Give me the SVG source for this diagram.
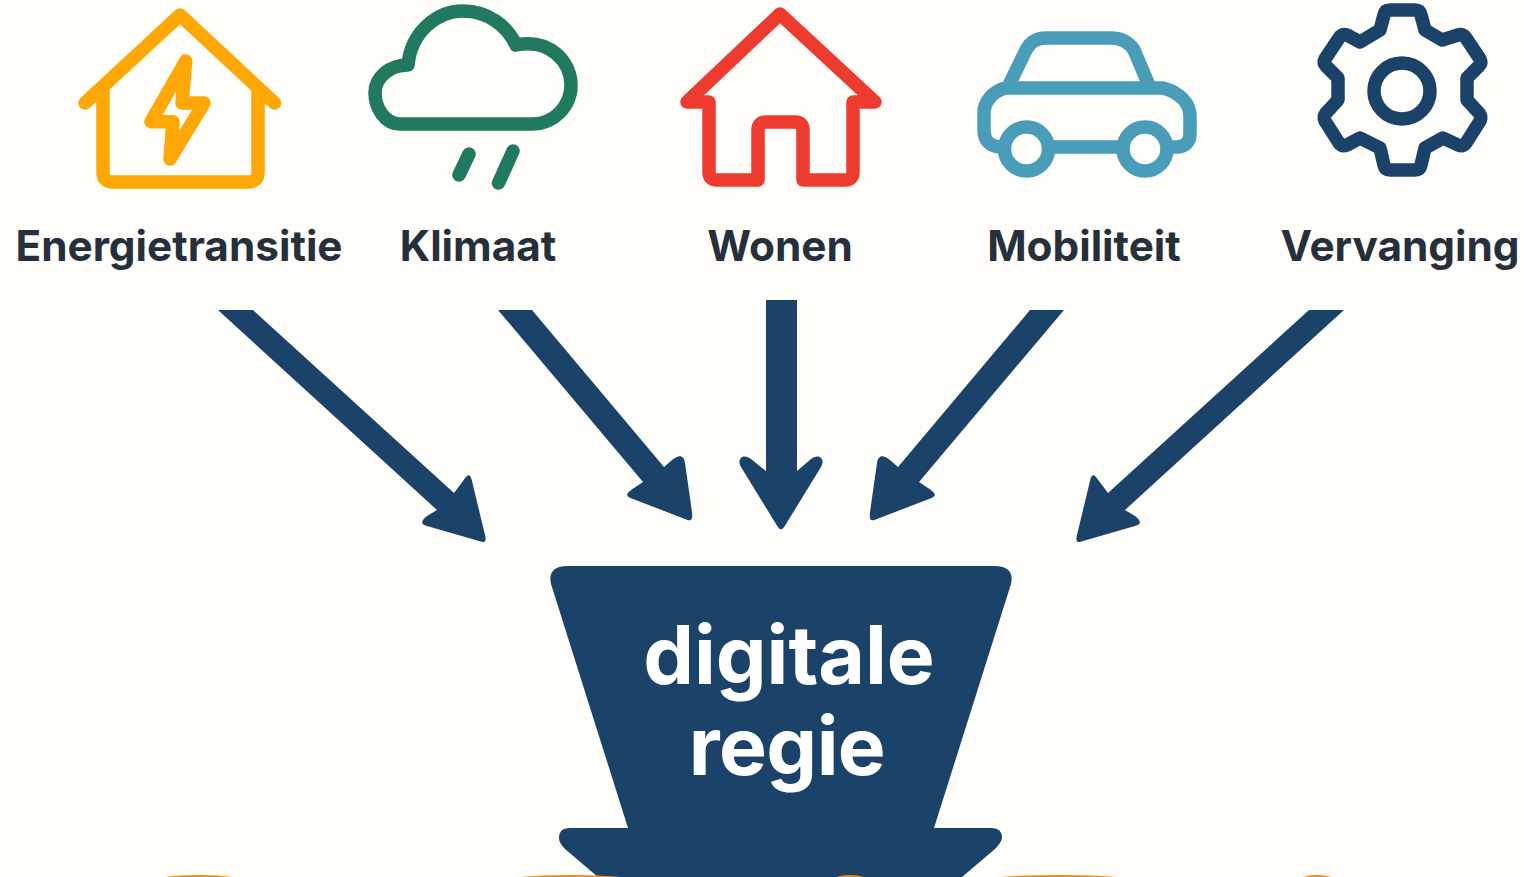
<svg xmlns="http://www.w3.org/2000/svg" width="1524" height="877" viewBox="0 0 1524 877">
<style>
.ico{fill:none;stroke-width:13.500;stroke-linecap:round;stroke-linejoin:round}
.lbl{font-family:"Inter","Liberation Sans",sans-serif;font-weight:700;font-size:42.300px;fill:#25303c;text-anchor:middle}
.big{font-family:"Inter","Liberation Sans",sans-serif;font-weight:700;font-size:80.500px;fill:#fff;text-anchor:middle}
.arr{fill:#1b4369}
.or{fill:#f08a12}
</style>
<rect width="1524" height="877" fill="#fffdfa"/>
<g id="node-energie">
<path class="ico" stroke="#ffa805" d="M85 103L180 15L274.500 103M103 90V172Q103 182 113 182H248Q258 182 258 172V90"/>
<path class="ico" stroke="#ffa805" d="M185.700 61L151 121.700H173L170 159L204 103H182Z"/>
<text class="lbl" x="179" y="261">Energietransitie</text>
</g>
<g id="node-klimaat">
<path class="ico" stroke="#217a60" d="M400 124H533C553 124 571 107 571 85C571 62 550 38 516 45C507 26 488 11 463 11C437 11 411 32 408 65C390 65 375 77 375 93C375 108 385 124 400 124Z"/>
<path class="ico" stroke="#217a60" d="M469 154L459 175M513 151L498.500 183"/>
<text class="lbl" x="478" y="261">Klimaat</text>
</g>
<g id="node-wonen">
<path class="ico" stroke="#ee3b2f" d="M709 102H687L780 14L875 102H853V172Q853 180 845 180H803V130Q803 122 795 122H766Q758 122 758 130V180H717Q709 180 709 172Z"/>
<text class="lbl" x="780" y="261">Wonen</text>
</g>
<g id="node-mobiliteit">
<path class="ico" stroke="#4a9db8" d="M1010 83L1026 50Q1032 38 1046 38H1111Q1126 38 1134 50L1148 83M1005 88H1163C1178 92 1190 102 1190 116V134C1190 142 1185 147 1177 147H1167M1005 88C992 92 984 102 984 113V130C984 141 990 146 1000 147M1053 147H1118"/>
<circle class="ico" stroke="#4a9db8" style="fill:#fffdfa" cx="1026.500" cy="149" r="22"/>
<circle class="ico" stroke="#4a9db8" style="fill:#fffdfa" cx="1145" cy="149" r="22"/>
<text class="lbl" x="1084" y="261">Mobiliteit</text>
</g>
<g id="node-vervanging">
<path class="ico" stroke="#1b4369" d="M1390 10H1415Q1420 10 1421 15L1425 30L1442 40L1458 35Q1463 33 1466 38L1480 59Q1482 63 1479 66L1467 78V100L1479 113Q1482 117 1480 121L1466 143Q1463 147 1458 145L1443 138L1425 148L1421 165Q1420 170 1415 170H1390Q1385 170 1384 165L1380 148L1360 138L1347 145Q1342 147 1339 143L1325 121Q1323 117 1326 113L1338 100V78L1326 66Q1323 63 1325 59L1339 38Q1342 33 1347 35L1360 42L1380 30L1384 15Q1385 10 1390 10Z"/>
<circle class="ico" stroke="#1b4369" cx="1402" cy="91" r="28"/>
<text class="lbl" x="1400" y="261">Vervanging</text>
</g>
<g id="connectors">
<path class="arr" d="M218 310H253L454 493L463 481C468 474 470 473 472 481L485 535C487 543 484 542.500 479 541L427 526C420.500 524.500 420.500 521 427 516L437 510Z"/>
<path class="arr" d="M498 310H532L664 467L672 460C679 454 684 455 685 463L692 512C693 522 690 521 685 519L633 499C625 496 625 494 634 488L643 482Z"/>
<path class="arr" d="M766 300H797V471L811 459C818 453 826 458 821 467L786 524C782 531 780 531 776 524L741 467C736 458 744 453 751 459L766 471Z"/>
<path class="arr" d="M1064 310H1030L898 467L890 460C883 454 878 455 877 463L870 512C869 522 872 521 877 519L929 499C937 496 937 494 928 488L919 482Z"/>
<path class="arr" d="M1344 310H1309L1108 493L1099 481C1094 474 1092 473 1090 481L1077 535C1075 543 1078 542.500 1083 541L1135 526C1141.500 524.500 1141.500 521 1135 516L1125 510Z"/>
</g>
<g id="node-regie">
<path fill="#1b4369" d="M568 566H994Q1015 566 1011 584L934 828H992Q1002 828 1002 838Q1001 843 995 849Q975 866 962 877H598Q585 866 565 849Q559 843 559 838Q559 828 569 828H628L551 584Q547 566 568 566Z"/>
<text class="big" x="789" y="684">digitale</text>
<text class="big" x="787" y="775" letter-spacing="-0.600">regie</text>
</g>
<g id="base-orange">
<ellipse class="or" cx="199" cy="882" rx="48" ry="7"/>
<ellipse class="or" cx="571" cy="882" rx="73" ry="7"/>
<ellipse class="or" cx="850" cy="882" rx="20" ry="7"/>
<ellipse class="or" cx="1059" cy="882" rx="84" ry="7"/>
<ellipse class="or" cx="1317" cy="882" rx="20" ry="7"/>
</g>
</svg>
